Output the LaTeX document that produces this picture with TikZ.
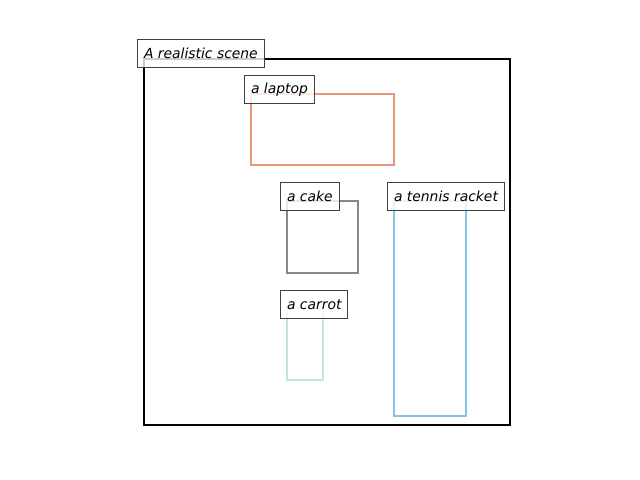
\documentclass[tikz,border=0pt]{standalone}
\usepackage{fontspec}
\setmainfont{DejaVu Sans}
\begin{document}
\begin{tikzpicture}[x=0.72pt,y=-0.72pt,
  objbox/.style={line width=1.44pt},
  lbl/.style={draw=black!75, line width=0.72pt, fill=white, fill opacity=0.8, text opacity=1,
    anchor=south west, minimum height=20.16pt, inner xsep=4.7pt, inner ysep=0pt,
    font=\fontsize{10pt}{12pt}\selectfont\itshape}]
\definecolor{laptopc}{RGB}{233,150,122}
\definecolor{cakec}{RGB}{127,140,135}
\definecolor{racketc}{RGB}{126,198,228}
\definecolor{carrotc}{RGB}{200,226,221}
\useasboundingbox (0,0) rectangle (640,480);
\draw[objbox, black] (144,59) rectangle (510,425);
\draw[objbox, laptopc] (251,94) rectangle (394,165);
\draw[objbox, cakec] (287,201) rectangle (358,273);
\draw[objbox, racketc] (394,201) rectangle (466,416);
\draw[objbox, carrotc] (287,308) rectangle (323,380);
\coordinate (ps) at (137,68);
\coordinate (pl) at (244,104);
\coordinate (pc) at (280,211);
\coordinate (pr) at (387,211);
\coordinate (pk) at (280,319);
\node[lbl] (scene) at (ps) {A realistic scene};
\node[lbl] (laptop) at (pl) {a laptop};
\node[lbl] (cake) at (pc) {a cake};
\node[lbl] (racket) at (pr) {a tennis racket};
\node[lbl] (carrot) at (pk) {a carrot};
\end{tikzpicture}
\end{document}
